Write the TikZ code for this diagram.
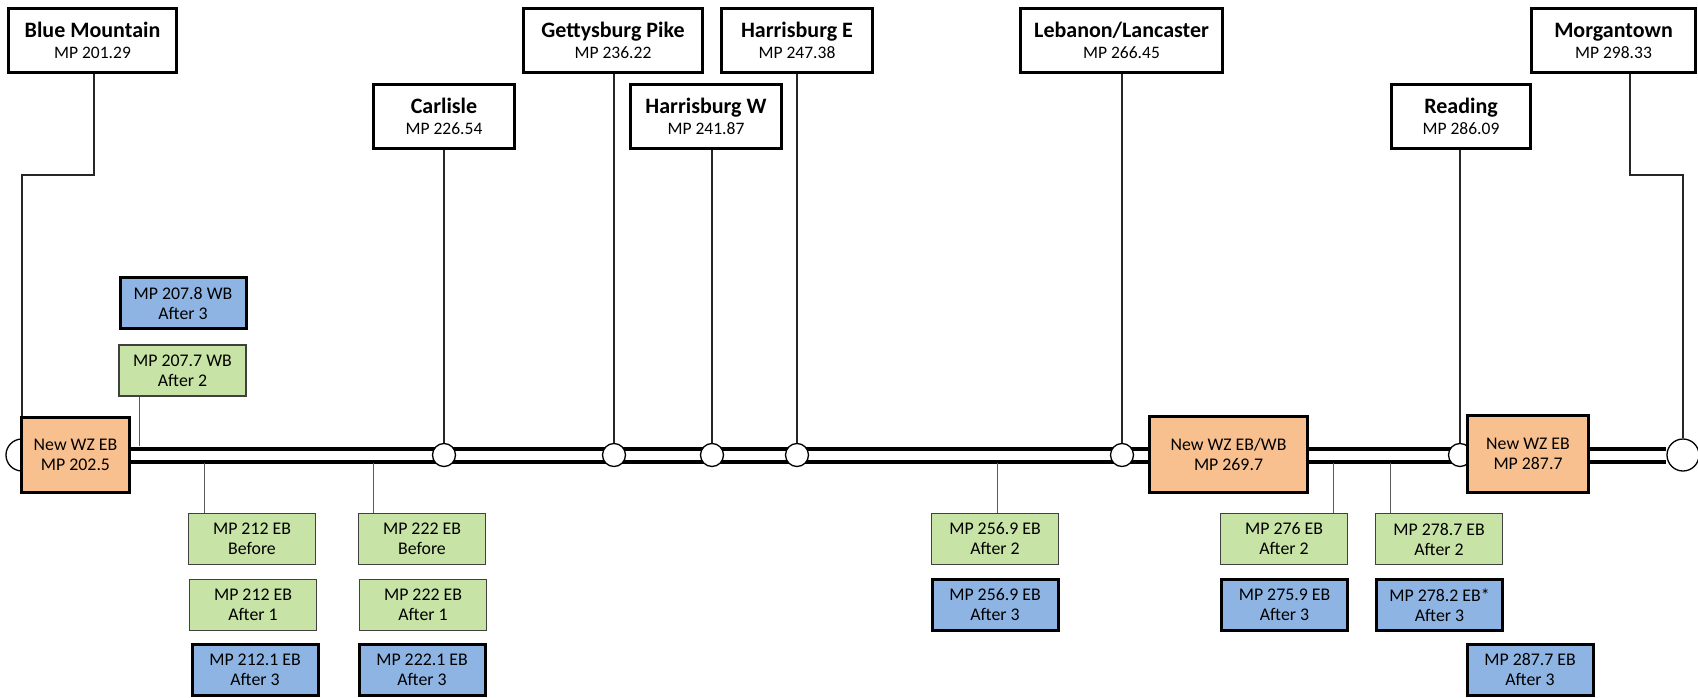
\documentclass[tikz,border=0pt]{standalone}
\usepackage{fontspec}
\setmainfont{Carlito}
\usetikzlibrary{calc}
\pgfdeclarelayer{bg}
\pgfsetlayers{bg,main}
\definecolor{wzorange}{RGB}{249,192,143}
\definecolor{wzgreen}{RGB}{199,227,166}
\definecolor{wzblue}{RGB}{142,180,227}
\newcommand\stnm[1]{{\bfseries\fontsize{22}{21}\selectfont #1}}
\begin{document}
\begin{tikzpicture}[x=1pt,y=-1pt,
  txt/.style={font=\fontsize{17.8}{20}\selectfont, align=center, inner sep=0pt},
  ic/.style={draw=black, line width=3pt, fill=white, inner sep=0pt, align=center, font=\fontsize{17.5}{21}\selectfont, minimum height=64pt},
  gbox/.style={txt, draw=black!75, line width=1.4pt, fill=wzgreen, minimum width=127pt, minimum height=51pt},
  bbox/.style={txt, draw=black, line width=3pt, fill=wzblue, minimum width=126pt, minimum height=51pt},
  obox/.style={txt, draw=black, line width=3pt, fill=wzorange},
  stopc/.style={circle, draw=black, line width=1.3pt, fill=white, minimum size=23pt, inner sep=0pt},
  endstop/.style={circle, draw=black, line width=1.3pt, fill=white, minimum size=32pt, inner sep=0pt},
  lead/.style={line width=1.3pt, draw=black!85},
  tick/.style={line width=1pt, draw=black!65},
]
\useasboundingbox (0,0) rectangle (1698,698);

% interchange circles
\node[endstop] (lc) at (22,455) {};
\node[stopc] (ccl) at (444,455) {};
\node[stopc] (cgp) at (614,455) {};
\node[stopc] (chw) at (712,455) {};
\node[stopc] (che) at (797,455) {};
\node[stopc] (cll) at (1122,455) {};
\node[stopc] (crd) at (1460,455) {};
\node[endstop] (rc) at (1683,455) {};

% interchange boxes
\node[ic, minimum width=168pt] (bm) at (92.5,40.5) {\stnm{Blue Mountain}\\MP 201.29};
\node[ic, minimum width=179pt] (gp) at (613,40.5) {\stnm{Gettysburg Pike}\\MP 236.22};
\node[ic, minimum width=151pt] (he) at (797,40.5) {\stnm{Harrisburg E}\\MP 247.38};
\node[ic, minimum width=202pt] (ll) at (1121.5,40.5) {\stnm{Lebanon/Lancaster}\\MP 266.45};
\node[ic, minimum width=164pt] (mt) at (1613.5,40.5) {\stnm{Morgantown}\\MP 298.33};
\node[ic, minimum width=141pt] (cl) at (444,116.5) {\stnm{Carlisle}\\MP 226.54};
\node[ic, minimum width=151pt] (hw) at (706,116.5) {\stnm{Harrisburg W}\\MP 241.87};
\node[ic, minimum width=139pt] (rd) at (1461,116.5) {\stnm{Reading}\\MP 286.09};

% new work zones
\node[obox, minimum width=108pt, minimum height=75pt] (o1) at (75.5,455) {New WZ EB\\MP 202.5};
\node[obox, minimum width=158pt, minimum height=76pt] (o2) at (1228.5,454) {New WZ EB/WB\\MP 269.7};
\node[obox, minimum width=121pt, minimum height=77pt] (o3) at (1528,454) {New WZ EB\\MP 287.7};

% sensor boxes
\node[bbox] (wb3) at (183,303) {MP 207.8 WB\\After 3};
\node[gbox] (wb2) at (182.5,370.5) {MP 207.7 WB\\After 2};

\node[gbox] (g212a) at (252,539) {MP 212 EB\\Before};
\node[gbox] (g212b) at (253,605) {MP 212 EB\\After 1};
\node[bbox] (b212) at (255,670) {MP 212.1 EB\\After 3};

\node[gbox] (g222a) at (422,539) {MP 222 EB\\Before};
\node[gbox] (g222b) at (423,605) {MP 222 EB\\After 1};
\node[bbox] (b222) at (422,670) {MP 222.1 EB\\After 3};

\node[gbox] (g2569) at (995,539) {MP 256.9 EB\\After 2};
\node[bbox] (b2569) at (995,605) {MP 256.9 EB\\After 3};

\node[gbox] (g276) at (1284,539) {MP 276 EB\\After 2};
\node[bbox] (b276) at (1284.5,605) {MP 275.9 EB\\After 3};

\node[gbox] (g2787) at (1439,539) {MP 278.7 EB\\After 2};
\node[bbox] (b2787) at (1439.5,605) {MP 278.2 EB*\\After 3};

\node[bbox] (b2877) at (1530,669.5) {MP 287.7 EB\\After 3};

% coordinates
\coordinate (bmk) at (94,175);
\coordinate (mtk) at (1630,175);
\coordinate (rwb) at (139,446);
\coordinate (r212) at (204,463);
\coordinate (r222) at (373,463);
\coordinate (r2569) at (997,463);
\coordinate (r276) at (1333,463);
\coordinate (r2787) at (1390,463);

\begin{pgfonlayer}{bg}
  % road
  \draw[line width=17pt] (lc) -- (rc);
  \draw[white, line width=9pt] (lc) -- (rc);
  % leads from interchanges
  \draw[lead] (bmk |- bm.south) -- (bmk) -| (lc);
  \draw[lead] (mtk |- mt.south) -- (mtk) -| (rc);
  \draw[lead] (ccl |- cl.south) -- (ccl);
  \draw[lead] (cgp |- gp.south) -- (cgp);
  \draw[lead] (chw |- hw.south) -- (chw);
  \draw[lead] (che |- he.south) -- (che);
  \draw[lead] (cll |- ll.south) -- (cll);
  \draw[lead] (crd |- rd.south) -- (crd);
  % sensor ticks
  \draw[tick] (rwb |- wb2.south) -- (rwb);
  \draw[tick] (r212) -- (r212 |- g212a.north);
  \draw[tick] (r222) -- (r222 |- g222a.north);
  \draw[tick] (r2569) -- (r2569 |- g2569.north);
  \draw[tick] (r276) -- (r276 |- g276.north);
  \draw[tick] (r2787) -- (r2787 |- g2787.north);
\end{pgfonlayer}
\end{tikzpicture}
\end{document}
